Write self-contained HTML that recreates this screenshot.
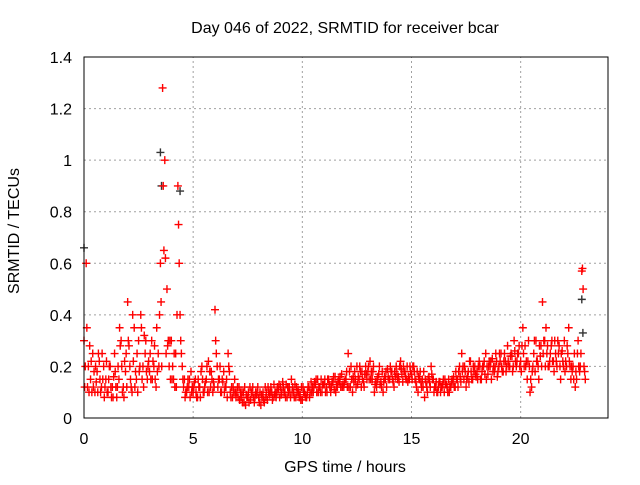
<!DOCTYPE html>
<html><head><meta charset="utf-8"><style>
body{margin:0;background:#fff}
svg text{font-family:"Liberation Sans",sans-serif;font-size:16px;fill:#000}
</style></head><body>
<svg id="chart" width="640" height="480" viewBox="0 0 640 480" xmlns="http://www.w3.org/2000/svg">
<rect width="640" height="480" fill="#fff"/>
<text x="345" y="33" text-anchor="middle">Day 046 of 2022, SRMTID for receiver bcar</text>
<text x="345" y="472" text-anchor="middle">GPS time / hours</text>
<text x="19" y="231" text-anchor="middle" transform="rotate(-90 19 231)">SRMTID / TECUs</text>
<g id="grid"></g><g id="ticks"></g><g id="marks"></g>
<rect x="84" y="57" width="524" height="361" fill="none" stroke="#000" stroke-width="1"/>
</svg>
<script>
const xTicks=[0,5,10,15,20];
const yTicks=[0,0.2,0.4,0.6,0.8,1,1.2,1.4];
const yTickLabels=["0","0.2","0.4","0.6","0.8","1","1.2","1.4"];
const redValues=[
0.3,0.6,0.2,0.15,0.25,0.1,0.18,0.22,0.12,0.2,
0.15,0.1,0.2,0.12,0.25,0.08,0.15,0.3,0.12,0.18,
0.45,0.2,0.1,0.35,0.15,0.3,0.4,0.2,0.25,0.15,
0.18,0.3,0.2,0.12,0.25,0.6,1.28,1.0,0.5,0.2,
0.3,0.15,0.25,0.9,0.4,0.2,0.15,0.1,0.12,0.18,
0.1,0.15,0.08,0.12,0.2,0.1,0.15,0.22,0.12,0.1,
0.42,0.2,0.15,0.1,0.18,0.12,0.25,0.1,0.08,0.15,
0.1,0.12,0.08,0.1,0.05,0.08,0.12,0.1,0.06,0.09,
0.08,0.05,0.1,0.12,0.07,0.09,0.1,0.13,0.08,0.11,
0.12,0.14,0.1,0.08,0.12,0.15,0.1,0.08,0.11,0.09,
0.07,0.1,0.08,0.12,0.14,0.1,0.13,0.15,0.12,0.1,
0.13,0.12,0.15,0.1,0.14,0.16,0.12,0.14,0.17,0.12,
0.15,0.25,0.12,0.1,0.18,0.2,0.15,0.12,0.14,0.2,
0.18,0.22,0.15,0.1,0.12,0.17,0.14,0.1,0.15,0.19,
0.15,0.18,0.12,0.2,0.16,0.22,0.14,0.18,0.2,0.15,
0.17,0.2,0.14,0.1,0.18,0.15,0.08,0.12,0.16,0.2,
0.15,0.12,0.1,0.14,0.12,0.1,0.13,0.15,0.12,0.14,
0.12,0.15,0.2,0.25,0.15,0.12,0.18,0.22,0.15,0.2,
0.18,0.22,0.15,0.2,0.25,0.17,0.2,0.23,0.18,0.22,
0.2,0.25,0.18,0.22,0.28,0.2,0.24,0.3,0.2,0.25,
0.22,0.35,0.28,0.15,0.2,0.12,0.25,0.3,0.2,0.24,
0.45,0.3,0.25,0.2,0.28,0.22,0.25,0.3,0.2,0.26,
0.3,0.2,0.35,0.15,0.2,0.12,0.25,0.18,0.57,0.2];
const redValues2=[
0.2,0.12,0.28,0.1,0.18,0.14,0.25,0.1,0.15,0.12,
0.1,0.2,0.08,0.16,0.12,0.2,0.28,0.1,0.22,0.12,
0.28,0.12,0.22,0.18,0.1,0.2,0.15,0.32,0.18,0.22,
0.15,0.22,0.15,0.18,0.4,0.2,0.65,0.25,0.3,0.15,
0.2,0.12,0.4,0.6,0.25,0.12,0.1,0.15,0.08,0.12,
0.14,0.08,0.12,0.18,0.1,0.14,0.1,0.18,0.15,0.12,
0.25,0.15,0.1,0.14,0.12,0.08,0.18,0.12,0.1,0.08,
0.08,0.1,0.06,0.12,0.08,0.06,0.1,0.08,0.1,0.12,
0.1,0.08,0.06,0.1,0.1,0.12,0.08,0.1,0.12,0.08,
0.1,0.1,0.13,0.1,0.08,0.12,0.13,0.1,0.08,0.12,
0.1,0.08,0.12,0.1,0.12,0.14,0.1,0.12,0.15,0.13,
0.1,0.15,0.12,0.14,0.11,0.13,0.15,0.12,0.13,0.15,
0.12,0.18,0.15,0.14,0.12,0.16,0.18,0.15,0.17,0.15,
0.15,0.18,0.2,0.14,0.16,0.13,0.18,0.16,0.12,0.15,
0.18,0.14,0.16,0.15,0.2,0.17,0.18,0.15,0.16,0.18,
0.2,0.15,0.18,0.15,0.12,0.18,0.14,0.15,0.12,0.15,
0.12,0.1,0.14,0.12,0.15,0.13,0.1,0.12,0.15,0.12,
0.15,0.18,0.14,0.2,0.18,0.16,0.22,0.15,0.18,0.16,
0.2,0.15,0.2,0.17,0.2,0.22,0.15,0.2,0.25,0.18,
0.22,0.18,0.25,0.2,0.2,0.25,0.2,0.22,0.25,0.2,
0.28,0.2,0.22,0.3,0.15,0.2,0.18,0.22,0.28,0.2,
0.3,0.35,0.2,0.25,0.22,0.3,0.2,0.28,0.25,0.2,
0.22,0.25,0.2,0.18,0.25,0.15,0.2,0.25,0.5,0.15];
const redValues3=[
0.12,0.35,0.1,0.22,0.12,0.2,0.1,0.15,0.25,0.08,
0.22,0.15,0.12,0.08,0.18,0.12,0.35,0.2,0.08,0.25,
0.3,0.15,0.4,0.12,0.25,0.18,0.35,0.12,0.3,0.2,
0.25,0.15,0.28,0.35,0.2,0.45,0.9,0.62,0.28,0.3,
0.15,0.25,0.12,0.75,0.3,0.15,0.08,0.12,0.15,0.1,
0.12,0.1,0.15,0.08,0.15,0.12,0.2,0.1,0.18,0.14,
0.3,0.12,0.2,0.15,0.1,0.15,0.2,0.08,0.12,0.1,
0.12,0.07,0.1,0.06,0.09,0.1,0.07,0.12,0.08,0.1,
0.06,0.09,0.07,0.08,0.12,0.1,0.07,0.09,0.1,0.13,
0.09,0.12,0.08,0.12,0.1,0.1,0.08,0.12,0.1,0.07,
0.12,0.09,0.1,0.08,0.1,0.12,0.15,0.1,0.1,0.13,
0.15,0.1,0.13,0.12,0.16,0.1,0.14,0.16,0.12,0.14,
0.18,0.12,0.2,0.16,0.15,0.13,0.2,0.18,0.12,0.17,
0.2,0.15,0.18,0.13,0.15,0.2,0.12,0.14,0.18,0.16,
0.2,0.15,0.18,0.17,0.14,0.19,0.2,0.16,0.14,0.2,
0.15,0.18,0.12,0.16,0.14,0.12,0.15,0.1,0.14,0.17,
0.1,0.14,0.12,0.1,0.13,0.15,0.12,0.1,0.14,0.16,
0.18,0.12,0.16,0.18,0.2,0.15,0.14,0.18,0.2,0.17,
0.15,0.2,0.18,0.22,0.15,0.2,0.22,0.18,0.2,0.16,
0.25,0.2,0.22,0.18,0.22,0.24,0.18,0.26,0.22,0.28,
0.18,0.25,0.2,0.22,0.1,0.18,0.3,0.22,0.15,0.28,
0.25,0.2,0.28,0.22,0.3,0.18,0.22,0.25,0.15,0.22,
0.18,0.28,0.22,0.2,0.15,0.18,0.3,0.2,0.58,0.18];
const blackTimes=[0.0,3.5,3.55,4.4,22.8,22.85];
const blackValues=[0.66,1.03,0.9,0.88,0.46,0.33];
const stepHours=0.1;
const X0=84,X1=608,Y0=418,Y1=57,XMAX=24,YMAX=1.4;
function xs(t){return X0+(X1-X0)*t/XMAX;}
function ys(v){return Y0-(Y0-Y1)*v/YMAX;}
const NS="http://www.w3.org/2000/svg";
const grid=document.getElementById('grid'),ticks=document.getElementById('ticks'),marks=document.getElementById('marks');
function mk(tag,attrs,parent){const e=document.createElementNS(NS,tag);for(const k in attrs)e.setAttribute(k,attrs[k]);parent.appendChild(e);return e;}
xTicks.forEach(t=>{
 const x=xs(t);
 if(t>0){const g=mk('line',{x1:x,y1:Y0,x2:x,y2:Y1,stroke:'#a0a0a0','stroke-dasharray':'2,3'},grid);
 
 }
 const tx=mk('text',{x:x,y:444,'text-anchor':'middle'},ticks);tx.textContent=t;
 
 
});
yTicks.forEach((v,i)=>{
 const y=ys(v);
 if(v>0&&v<YMAX){const g=mk('line',{x1:X0,y1:y,x2:X1,y2:y,stroke:'#a0a0a0','stroke-dasharray':'2,3'},grid);
 
 }
 const tx=mk('text',{x:72,y:y+6,'text-anchor':'end'},ticks);tx.textContent=yTickLabels[i];
 
 
});
function cross(t,v,color,name){
 const x=xs(t),y=ys(v);
 const p=mk('path',{d:`M${x-4} ${y}H${x+4}M${x} ${y-4}V${y+4}`,stroke:color,'stroke-width':1.4,fill:'none'},marks);
 
 
}
blackValues.forEach((v,i)=>cross(blackTimes[i],v,'#333','black-point'));
redValues3.forEach((v,i)=>cross(i*stepHours+0.03,v,'#ff0000','red-point'));
redValues2.forEach((v,i)=>cross(i*stepHours+0.06,v,'#ff0000','red-point'));
redValues.forEach((v,i)=>cross(i*stepHours,v,'#ff0000','red-point'));
</script>
</body></html>
